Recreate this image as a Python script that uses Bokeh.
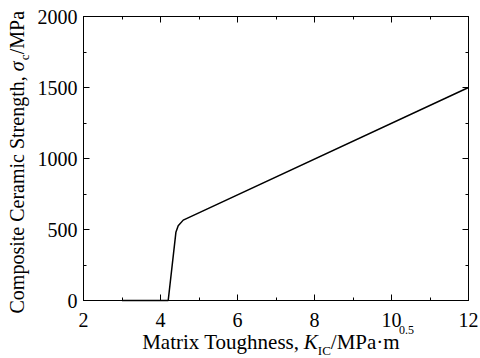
import math
from bokeh.plotting import figure
from bokeh.models import (Range1d, SingleIntervalTicker, LinearAxis, Label,
                          CustomJSTickFormatter)
from bokeh.embed import file_html
from bokeh.resources import INLINE

# ---- data ----
toughness = [3.0, 4.2, 4.40, 4.46, 4.59, 12.0]
strength = [0, 0, 480, 526, 566, 1500]
x_lim = (2, 12)
y_lim = (0, 2000)
x_tick_step = 2
y_tick_step = 500

FONT = "Liberation Serif"

# ---- layout (pixels of the 480x358 canvas) ----
W, H = 480, 358
BOX_L, BOX_R, BOX_T, BOX_B = 83, 468, 16, 300
sx = (BOX_R - BOX_L) / (x_lim[1] - x_lim[0])
sy = (BOX_B - BOX_T) / (y_lim[1] - y_lim[0])
xr = Range1d(x_lim[0] - BOX_L / sx, x_lim[1] + (W - BOX_R) / sx)
yr_ = Range1d(y_lim[0] - (H - BOX_B) / sy, y_lim[1] + BOX_T / sy)

p = figure(width=W, height=H, output_backend="svg", toolbar_location=None,
           x_range=xr, y_range=yr_,
           min_border_left=0, min_border_right=0, min_border_top=0,
           min_border_bottom=0, x_axis_type=None, y_axis_type=None)
p.grid.visible = False
p.outline_line_color = None
p.background_fill_color = "white"
p.border_fill_color = "white"


def make_axis(interval, loc, bounds, show_labels):
    ax = LinearAxis(ticker=SingleIntervalTicker(interval=interval, num_minor_ticks=2),
                    fixed_location=loc, bounds=bounds)
    ax.major_tick_in = 6
    ax.major_tick_out = 0
    ax.minor_tick_in = 3
    ax.minor_tick_out = 0
    ax.axis_line_color = "black"
    ax.major_tick_line_color = "black"
    ax.minor_tick_line_color = "black"
    ax.axis_line_width = 1
    if show_labels:
        ax.major_label_text_font = FONT
        ax.major_label_text_font_size = "20px"
        ax.major_label_text_color = "black"
    else:
        ax.formatter = CustomJSTickFormatter(code="return ''")
        ax.major_label_text_font_size = "0px"
        ax.major_label_standoff = 0
    return ax


xb = make_axis(x_tick_step, y_lim[0], x_lim, True)
xb.major_label_standoff = 12
p.add_layout(xb, "below")

yl = make_axis(y_tick_step, x_lim[0], y_lim, True)
yl.major_label_standoff = 6
p.add_layout(yl, "left")

p.add_layout(make_axis(x_tick_step, y_lim[1], x_lim, False), "above")
p.add_layout(make_axis(y_tick_step, x_lim[1], y_lim, False), "right")

p.line(toughness, strength, line_color="black", line_width=1.5)

SHIFT = 0.33  # baseline correction, fraction of font size


def add_label(text, x, y, size, style="normal", angle=0.0):
    if angle == 0.0:
        y = y + SHIFT * size
    else:
        x = x - SHIFT * size
    p.add_layout(Label(x=x, y=y, x_units="screen", y_units="screen", text=text,
                       text_font=FONT, text_font_size=f"{size}px",
                       text_font_style=style, text_color="black",
                       text_align="left", text_baseline="alphabetic",
                       angle=angle))


# x axis label pieces (flowed left to right); screen coords, y up from bottom
em = 21 / 1000.0
x0 = 141.7
yb = H - 348
add_label("Matrix Toughness, ", x0, yb, 21)
x1 = x0 + 7555 * em + 3
add_label("K", x1, yb, 21, "italic")
x2 = x1 + 667 * em
add_label("IC", x2, yb - 6, 13)
x3 = x2 + 1000 * 0.013
add_label("/MPa\u00b7m", x3, yb, 21)
x4 = x3 + 3195 * em
add_label("0.5", x4 + 1, yb + 15, 12)

# y axis label pieces (rotated, flowing bottom to top)
em2 = 20 / 1000.0
bx = 23.3
s0 = H - 313
rot = math.pi / 2
add_label("Composite Ceramic Strength, ", bx, s0, 20, angle=rot)
s1 = s0 + 12111 * em2
add_label("\u03c3", bx, s1, 20, "italic", angle=rot)
s2 = s1 + 11
add_label("c", bx + 5, s2, 13, angle=rot)
s3 = s2 + 6
add_label("/MPa", bx, s3, 20, angle=rot)

open("out.html", "w").write(file_html(p, INLINE))
